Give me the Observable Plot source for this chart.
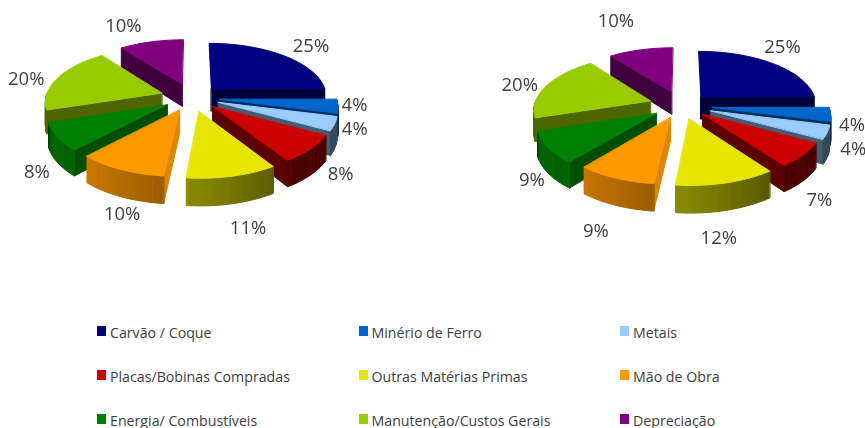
<!DOCTYPE html>
<html><head><meta charset="utf-8">
<script src="https://cdn.jsdelivr.net/npm/d3@7"></script>
<script src="https://cdn.jsdelivr.net/npm/@observablehq/plot@0.6"></script>
<style>
html,body{margin:0;padding:0;background:#fff;overflow:hidden}
#legend{display:grid;grid-template-columns:261.5px 261.5px 200px;grid-auto-rows:44px;padding-left:97px;font:14.2px "Open Sans",sans-serif;color:#404040}
#legend div{display:flex;align-items:center}
#legend i{display:inline-block;width:9px;height:10px;margin-right:4px;margin-top:-3px}
svg{filter:blur(0.35px)}
</style></head><body>
<div id="chart"></div><div id="legend"></div>
<script>
const categories = ["Carvão / Coque","Minério de Ferro","Metais","Placas/Bobinas Compradas","Outras Matérias Primas","Mão de Obra","Energia/ Combustíveis","Manutenção/Custos Gerais","Depreciação"];
const colors = ["#000080","#0066CC","#99CCFF","#CC0000","#E6E600","#FF9900","#008000","#99CC00","#800080"];
const valuesLeft = [25,4,4,8,10.6,10.4,8,19.6,10.4];
const valuesRight = [25,4,4,7,11.7,9.2,9.1,19.6,10.4];

// layout of the tilted, exploded pies
const R=116, DEPTH=23, NORM=144, PERSP=0.168, FLAT=66.5, LABEL_R=160;
const paintOrder=[0,1,2,3,8,7,6,5,4];
const pies=[
 {name:"L",values:valuesLeft,cx:191.5,cy:97,ex:[28,28,28,28,30,29,29,32,32],nudge:[[19,-5],[0,-2],[3,2],[15,19],[11,43],[10,36],[-5,31],[-21,2],[-25,-12]]},
 {name:"R",values:valuesRight,cx:681,cy:105,ex:[28,31,31,28,29,28,30,33,32],nudge:[[1,-12],[8,10],[12,14.5],[1,39],[-13,45],[-11,43],[-2,28],[-17,0],[-22,-25]]}
];
function shade(c,k){const r=d3.rgb(c);return d3.rgb(r.r*k,r.g*k,r.b*k).formatHex();}
function wallShade(t){return t>250?0.5:Math.max(0.36,Math.min(0.78,0.4+(t-147)/76*0.4));}
const polys=[],labels=[];
for(const p of pies){
  const arcs=d3.pie().sort(null).startAngle(0).endAngle(2*Math.PI)(p.values);
  const proj=(a,b,mid,off,dz)=>{ // b: radius at angle a, off: explosion along mid
    const X=off*Math.sin(mid)+b*Math.sin(a), Z=(-off*Math.cos(mid)-b*Math.cos(a))/NORM;
    const s=1/(1-PERSP*Z);
    return {x:p.cx+X*s,y:p.cy+FLAT*Z*s+dz*s};
  };
  let id=0;
  const add=(pts,color)=>{const k=p.name+(id++);for(const q of pts)polys.push({id:k,x:q.x,y:q.y,color});};
  for(const i of paintOrder){
    const {startAngle:a,endAngle:b}=arcs[i], mid=(a+b)/2, col=colors[i], EX=p.ex[i];
    const apex=proj(0,0,mid,EX,0), apexB=proj(0,0,mid,EX,DEPTH);
    if(Math.sin(a)<-1e-6){
      const t=a*180/Math.PI-90;
      add([apex,proj(a,R,mid,EX,0),proj(a,R,mid,EX,DEPTH),apexB],shade(col,t<120?0.87:t<140?0.62:0.5));
    }
    if(Math.sin(b)>1e-6){
      add([apex,proj(b,R,mid,EX,0),proj(b,R,mid,EX,DEPTH),apexB],shade(col,0.45));
    }
    // outer wall, in thin shaded strips
    const step=1.5*Math.PI/180;
    for(let t=a;t<b-1e-9;t+=step){
      const u=Math.min(b,t+step),m=(t+u)/2;
      if(Math.cos(m)>=0) continue;
      add([proj(t,R,mid,EX,0),proj(u,R,mid,EX,0),proj(u,R,mid,EX,DEPTH),proj(t,R,mid,EX,DEPTH)],shade(col,wallShade(m*180/Math.PI)));
    }
    const top=[apex];
    const n=Math.ceil((b-a)/(Math.PI/90));
    for(let j=0;j<=n;j++) top.push(proj(a+(b-a)*j/n,R,mid,EX,0));
    add(top,col);
    const c=proj(mid,LABEL_R,mid,0,0);
    labels.push({x:c.x+p.nudge[i][0],y:c.y+p.nudge[i][1],text:Math.round(p.values[i])+"%"});
  }
}
const chart=Plot.plot({
  width:865,height:310,margin:0,
  x:{domain:[0,865],range:[0,865],axis:null},
  y:{domain:[0,310],range:[0,310],axis:null},
  color:{type:"identity"},
  marks:[
    Plot.line(polys,{x:"x",y:"y",z:"id",fill:"color",stroke:"color",strokeWidth:1,strokeLinejoin:"bevel",curve:"linear-closed"}),
    Plot.text(labels,{x:"x",y:"y",text:"text",fontSize:18.5,fontFamily:"Open Sans",fill:"#404040",letterSpacing:"-0.5px"})
  ]
});
document.getElementById("chart").append(chart);
chart.style.display="block";
const lg=document.getElementById("legend");
categories.forEach((c,i)=>{
  const d=document.createElement("div");
  const s=document.createElement("i");s.style.background=colors[i];
  const t=document.createElement("span");t.textContent=c;
  d.append(s,t);lg.append(d);
});
</script></body></html>
